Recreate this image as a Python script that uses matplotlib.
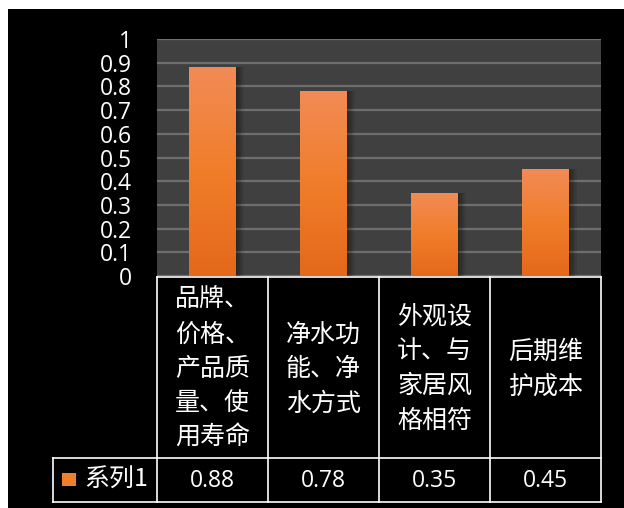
import matplotlib
matplotlib.use("Agg")
import matplotlib.pyplot as plt
import numpy as np
from matplotlib.patches import Rectangle
from matplotlib.colors import LinearSegmentedColormap

plt.rcParams['font.family'] = ['Noto Sans CJK SC', 'DejaVu Sans']

categories = ["品牌、\n价格、\n产品质\n量、使\n用寿命",
              "净水功\n能、净\n水方式",
              "外观设\n计、与\n家居风\n格相符",
              "后期维\n护成本"]
values = [0.88, 0.78, 0.35, 0.45]
value_labels = ["0.88", "0.78", "0.35", "0.45"]
series_name = "系列1"
yticks = [0, 0.1, 0.2, 0.3, 0.4, 0.5, 0.6, 0.7, 0.8, 0.9, 1]
ytick_labels = ["0", "0.1", "0.2", "0.3", "0.4", "0.5", "0.6", "0.7", "0.8", "0.9", "1"]

W, H = 624, 508
fig = plt.figure(figsize=(W / 100, H / 100), dpi=100)
fig.patch.set_facecolor("white")

# black slide background
fig.patches.append(Rectangle((8 / W, 0), (W - 8) / W, (H - 9) / H,
                             transform=fig.transFigure, facecolor="black",
                             edgecolor="none", zorder=-10))

def px_axes(x0, y0, x1, y1):
    return [x0 / W, 1 - y1 / H, (x1 - x0) / W, (y1 - y0) / H]

ax = fig.add_axes(px_axes(157, 39, 601, 276))
ax.set_facecolor("#404040")
ax.set_xlim(-0.5, 3.5)
ax.set_ylim(0, 1)
for s in ax.spines.values():
    s.set_visible(False)
ax.set_yticks(yticks)
ax.set_yticklabels(ytick_labels, color="white", fontsize=16.5,
                   family=["Open Sans", "DejaVu Sans"])
ax.tick_params(axis="y", length=0, pad=18)
ax.tick_params(axis="x", length=0, labelbottom=False)
ax.set_xticks([])
ax.yaxis.grid(True, color="#6e6e6e", linewidth=1.6)
ax.set_axisbelow(True)

x = np.arange(len(values))
width = 0.42

# soft shadow to the right of each bar
for k in range(1, 7):
    ax.bar(x + 0.012 * k, values, width=width, color="black",
           alpha=0.07, zorder=2, linewidth=0)

bars = ax.bar(x, values, width=width, color="#F07F2C", zorder=3, linewidth=0)

cmap = LinearSegmentedColormap.from_list(
    "og", ["#E4691A", "#F07D2A", "#F28B55"])
grad = np.linspace(0, 1, 256).reshape(-1, 1)
for b in bars:
    bx, by = b.get_x(), b.get_y()
    bw, bh = b.get_width(), b.get_height()
    im = ax.imshow(grad, cmap=cmap, origin="lower", aspect="auto",
                   extent=(bx, bx + bw, by, by + bh), zorder=4)
    im.set_clip_path(b)
ax.set_xlim(-0.5, 3.5)
ax.set_ylim(0, 1)

# data table below the plot
tab = fig.add_axes(px_axes(157, 277, 601, 502), sharex=ax)
tab.set_ylim(502, 277)
tab.axis("off")
tab.patch.set_visible(False)

lc = "white"
lw = 1.2
left_edge = -0.5 - (157 - 53) / 111
bounds = [-0.5, 0.5, 1.5, 2.5, 3.5]
tab.plot([-0.5, 3.5], [277, 277], color=lc, lw=lw, clip_on=False)
tab.plot([left_edge, 3.5], [458, 458], color=lc, lw=lw, clip_on=False)
tab.plot([left_edge, 3.5], [502, 502], color=lc, lw=lw, clip_on=False)
tab.plot([left_edge, left_edge], [458, 502], color=lc, lw=lw, clip_on=False)
for b in bounds:
    tab.plot([b, b], [277, 502], color=lc, lw=lw, clip_on=False)

for i, cat in enumerate(categories):
    tab.text(i, 369, cat, ha="center", va="center", multialignment="left",
             color="white", fontsize=18, linespacing=1.42,
             fontweight="light", clip_on=False)
for i, v in enumerate(value_labels):
    tab.text(i, 481, v, ha="center", va="center", color="white",
             fontsize=16.5, family=["Open Sans", "DejaVu Sans"], clip_on=False)

# legend key in the value row
key_x0 = left_edge + (62 - 53) / 111
tab.add_patch(Rectangle((key_x0, 473), 14 / 111, 13, facecolor="#F07F2C",
                        edgecolor="none", clip_on=False))
tab.text(left_edge + (84 - 53) / 111, 480, series_name, ha="left",
         va="center", color="white", fontsize=18, fontweight="light",
         clip_on=False)

fig.savefig("out.png", dpi=100, facecolor=fig.get_facecolor())
